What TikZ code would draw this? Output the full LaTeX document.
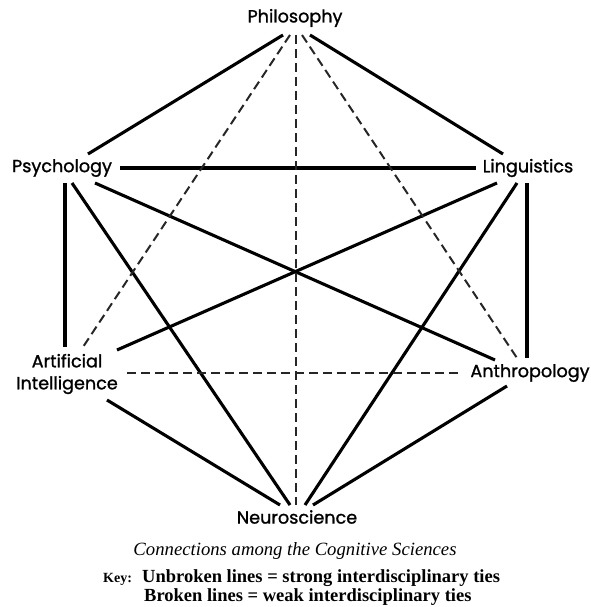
\documentclass[tikz,border=0pt]{standalone}
\usepackage{fontspec}
\setmainfont{Liberation Serif}
\newfontfamily\labfont[FakeBold=1.2]{Poppins}
\begin{document}
\begin{tikzpicture}[x=1pt,y=-1pt,
  lab/.style={font=\labfont\fontsize{17.6}{22}\selectfont, inner sep=0pt, align=center},
  strong/.style={line width=3.1pt, black},
  weak/.style={line width=2pt, black!85, dash pattern=on 9pt off 5pt},
  captext/.style={inner sep=0pt}]
\useasboundingbox (0,0) rectangle (590,607);
% labels
\node[lab] (phil) at (295,18) {Philosophy};
\node[lab] (psy) at (62,168) {Psychology};
\node[lab] (ling) at (528,168) {Linguistics};
\node[lab] (ai) at (67,374) {Artificial\\Intelligence};
\node[lab] (anth) at (530,373) {Anthropology};
\node[lab] (neuro) at (297,517) {Neuroscience};
% end points
\coordinate (pA) at (283,35); \coordinate (pB) at (290,35); \coordinate (pC) at (296,35);
\coordinate (pD) at (302,35); \coordinate (pE) at (310,35);
\coordinate (sA) at (88,154); \coordinate (sB) at (120,168); \coordinate (sC) at (65,183);
\coordinate (sD) at (72,183); \coordinate (sE) at (95,183);
\coordinate (lA) at (503,154); \coordinate (lB) at (476,168); \coordinate (lC) at (497,183);
\coordinate (lD) at (517,183); \coordinate (lE) at (527,183);
\coordinate (aA) at (83,347); \coordinate (aB) at (65,347); \coordinate (aC) at (117,350);
\coordinate (aD) at (127,373); \coordinate (aE) at (107,400);
\coordinate (nA) at (517,358); \coordinate (nB) at (527,358); \coordinate (nC) at (495,360);
\coordinate (nD) at (462,373); \coordinate (nE) at (507,386);
\coordinate (eA) at (280,505); \coordinate (eB) at (290,505); \coordinate (eC) at (296,505);
\coordinate (eD) at (305,505); \coordinate (eE) at (313,505);
% strong ties
\draw[strong] (pA) -- (sA);
\draw[strong] (pE) -- (lA);
\draw[strong] (sB) -- (lB);
\draw[strong] (sC) -- (aB);
\draw[strong] (lE) -- (nB);
\draw[strong] (sE) -- (nC);
\draw[strong] (lC) -- (aC);
\draw[strong] (sD) -- (eB);
\draw[strong] (lD) -- (eD);
\draw[strong] (aE) -- (eA);
\draw[strong] (nE) -- (eE);
% weak ties
\draw[weak] (pB) -- (aA);
\draw[weak] (pD) -- (nA);
\draw[weak] (pC) -- (eC);
\draw[weak] (aD) -- (nD);
% caption and key
\node[captext, font=\itshape\fontsize{18.7}{22}\selectfont] (cap) at (295,551) {Connections among the Cognitive Sciences};
\node[captext, font=\bfseries\fontsize{14}{16}\selectfont, anchor=base west] (key) at (103,582) {K\textsc{ey}:};
\node[captext, font=\bfseries\fontsize{18.5}{20}\selectfont, anchor=base west] (k1) at (142,582) {Unbroken lines = strong interdisciplinary ties};
\node[captext, font=\bfseries\fontsize{18.5}{20}\selectfont, anchor=base west] (k2) at (144,601) {Broken lines = weak interdisciplinary ties};
\end{tikzpicture}
\end{document}
